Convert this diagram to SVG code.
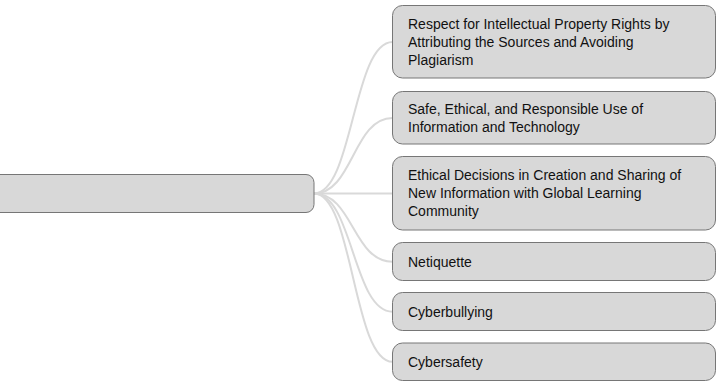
<svg xmlns="http://www.w3.org/2000/svg" width="720" height="381" viewBox="0 0 720 381">
<style>
.node{fill:#d8d8d8;stroke:#767676;stroke-width:1;}
.link{fill:none;stroke:#d9d9d9;stroke-width:2;}
.t{font-family:"Liberation Sans",Arial,Helvetica,sans-serif;font-size:14px;fill:#111111;}
</style>
<rect width="720" height="381" fill="#ffffff"/>
<g id="connectors">
<path class="link" d="M314,193.5 C353,193.5 353,42 392.5,42"/>
<path class="link" d="M314,193.5 C353,193.5 353,118 392.5,118"/>
<path class="link" d="M314,193.5 C353,193.5 353,193.5 392.5,193.5"/>
<path class="link" d="M314,193.5 C353,193.5 353,261.7 392.5,261.7"/>
<path class="link" d="M314,193.5 C353,193.5 353,311.7 392.5,311.7"/>
<path class="link" d="M314,193.5 C353,193.5 353,361.7 392.5,361.7"/>
</g>
<g id="root">
<rect class="node" x="-10" y="174.5" width="324" height="38" rx="8"/>
</g>
<g id="n1">
<rect class="node" x="392.5" y="5.5" width="323" height="72.5" rx="10"/>
<text class="t" x="408" y="28.8">Respect for Intellectual Property Rights by</text>
<text class="t" x="408" y="46.8">Attributing the Sources and Avoiding</text>
<text class="t" x="408" y="64.8">Plagiarism</text>
</g>
<g id="n2">
<rect class="node" x="392.5" y="91.5" width="323" height="52.5" rx="10"/>
<text class="t" x="408" y="114">Safe, Ethical, and Responsible Use of</text>
<text class="t" x="408" y="132">Information and Technology</text>
</g>
<g id="n3">
<rect class="node" x="392.5" y="156.5" width="323" height="73.5" rx="10"/>
<text class="t" x="408" y="180.3">Ethical Decisions in Creation and Sharing of</text>
<text class="t" x="408" y="198.3">New Information with Global Learning</text>
<text class="t" x="408" y="216.3">Community</text>
</g>
<g id="n4">
<rect class="node" x="392.5" y="242.5" width="323" height="38" rx="10"/>
<text class="t" x="408" y="266.7">Netiquette</text>
</g>
<g id="n5">
<rect class="node" x="392.5" y="292.5" width="323" height="38" rx="10"/>
<text class="t" x="408" y="316.7">Cyberbullying</text>
</g>
<g id="n6">
<rect class="node" x="392.5" y="343" width="323" height="37.5" rx="10"/>
<text class="t" x="408" y="366.7">Cybersafety</text>
</g>
</svg>
